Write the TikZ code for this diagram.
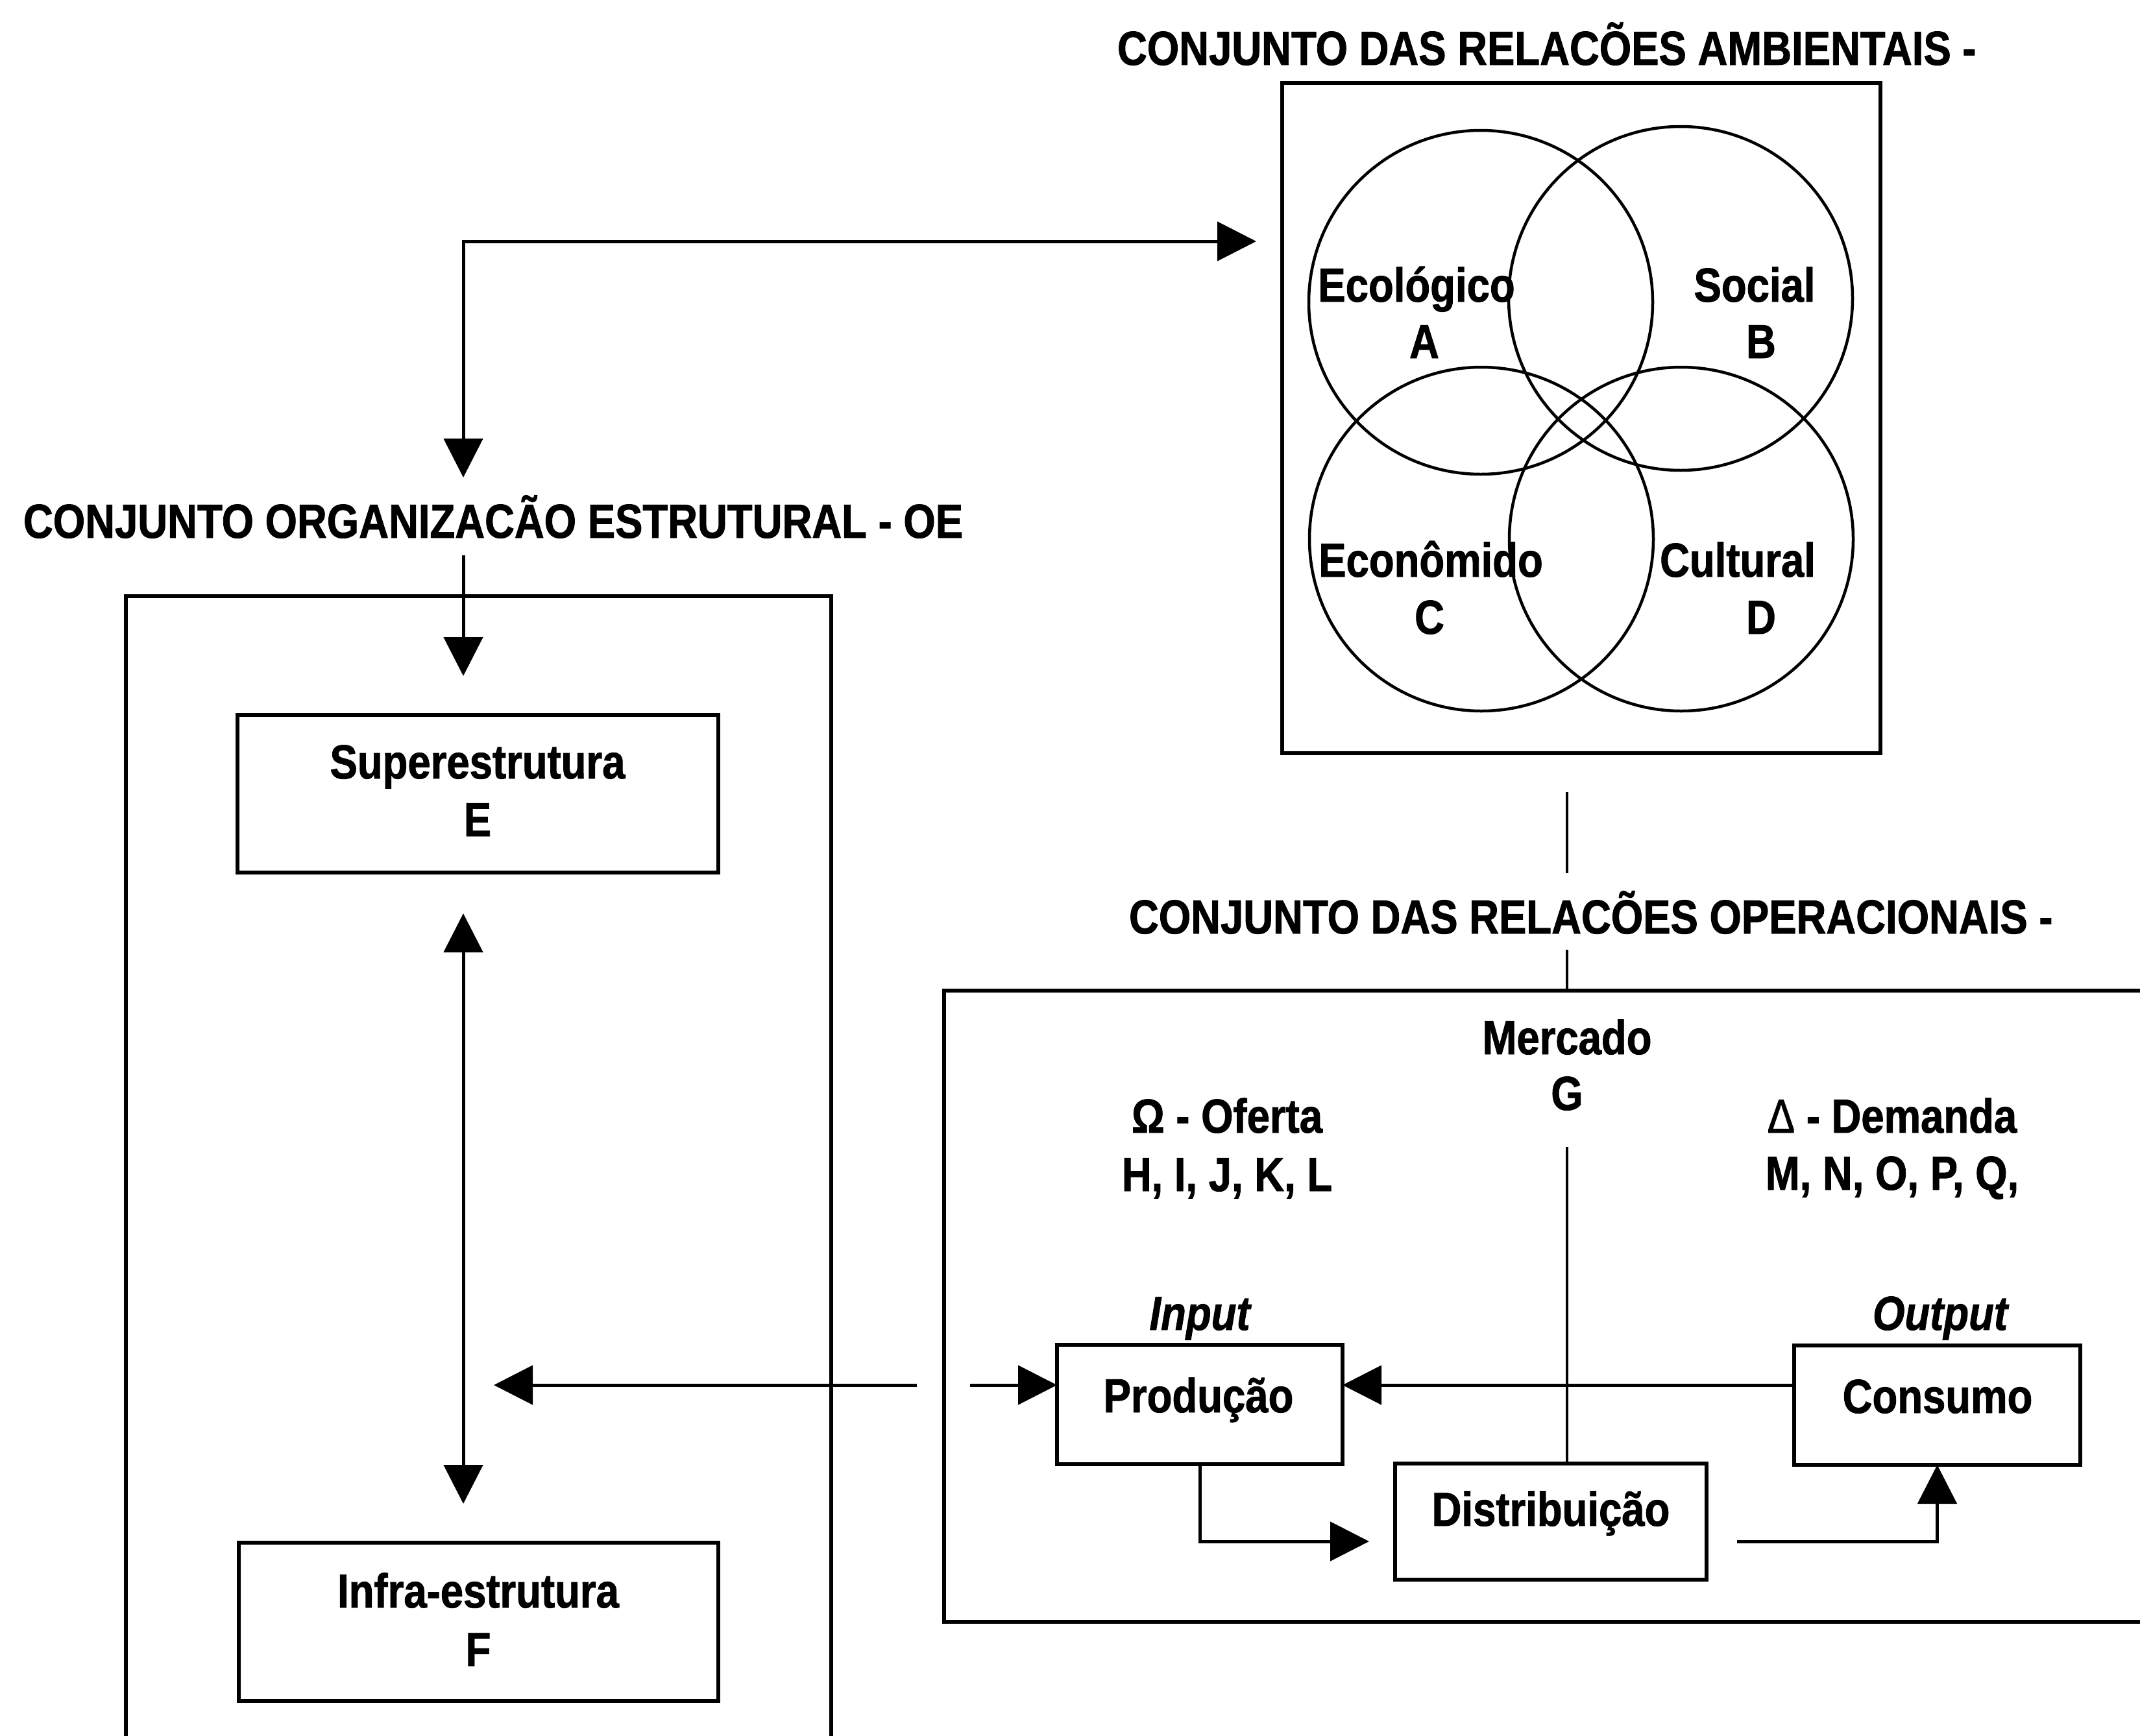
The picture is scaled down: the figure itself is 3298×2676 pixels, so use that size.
\documentclass[tikz,border=0pt]{standalone}
\usepackage{fontspec}
\setmainfont{Liberation Sans}[FakeStretch=0.86,FakeBold=1.2]
\usetikzlibrary{arrows.meta}
\begin{document}
\begin{tikzpicture}[x=0.1mm,y=-0.1mm,
  txt/.style={inner sep=0pt, outer sep=0pt, anchor=base, font=\fontsize{21}{25}\selectfont\bfseries},
  ttl/.style={txt, anchor=base west},
  box/.style={draw, line width=0.6mm, inner sep=0pt, outer sep=0pt},
  ven/.style={draw, circle, line width=0.45mm, minimum size=53mm, inner sep=0pt, outer sep=0pt},
  con/.style={line width=0.5mm},
  thin line/.style={line width=0.35mm},
  arr/.style={con, -{Triangle[length=6mm,width=6mm]}},
  dbl/.style={con, {Triangle[length=6mm,width=6mm]}-{Triangle[length=6mm,width=6mm]}}]
\useasboundingbox (0,0) rectangle (3298,2676);

% ---------- titles
\node[ttl] (ambT) at (1722,100) {CONJUNTO DAS RELACÕES AMBIENTAIS -};
\node[ttl] (oeT) at (36,829) {CONJUNTO ORGANIZACÃO ESTRUTURAL - OE};
\node[ttl] (opT) at (1740,1439) {CONJUNTO DAS RELACÕES OPERACIONAIS -};

% ---------- ambient box and Venn
\node[box, minimum width=92.2mm, minimum height=103.3mm] (amb) at (2437,644.5) {};
\node[ven] (cA) at (2282,466) {};
\node[ven] (cB) at (2590,460) {};
\node[ven] (cC) at (2283,831) {};
\node[ven] (cD) at (2591,831) {};
\node[txt] (tA1) at (2183,465) {Ecológico};
\node[txt] (tA2) at (2195,552) {A};
\node[txt] (tB1) at (2704,465) {Social};
\node[txt] (tB2) at (2714,552) {B};
\node[txt] (tC1) at (2205,889) {Econômido};
\node[txt] (tC2) at (2203,977) {C};
\node[txt] (tD1) at (2678,889) {Cultural};
\node[txt] (tD2) at (2714,977) {D};

% ---------- top connector
\coordinate (corner) at (714,372);
\coordinate (oeIn) at (714,736);
\coordinate (ambIn) at (1936,372);
\draw[dbl] (oeIn) -- (corner) -- (ambIn);

% ---------- organisation box
\draw[box] (194,2700) -- (194,919) -- (1281,919) -- (1281,2700);
\node[box, minimum width=74.1mm, minimum height=24.3mm] (sup) at (736.5,1223.5) {};
\node[txt] (supT1) at (736,1200) {Superestrutura};
\node[txt] (supT2) at (736,1289) {E};
\node[box, minimum width=73.9mm, minimum height=24.4mm] (inf) at (737.5,2500) {};
\node[txt] (infT1) at (737,2478) {Infra-estrutura};
\node[txt] (infT2) at (737,2568) {F};
\coordinate (oeOut) at (714,856);
\draw[arr, shorten >=6mm] (oeOut) -- (oeOut |- sup.north);
\draw[dbl, shorten <=6.3mm, shorten >=6mm] (oeOut |- sup.south) -- (oeOut |- inf.north);

% ---------- operational box
\draw[box] (3320,1527) -- (1455,1527) -- (1455,2500) -- (3320,2500);
\coordinate (v1a) at (2415,1221);
\coordinate (v1b) at (2415,1346);
\coordinate (v2a) at (2415,1464);
\coordinate (v2b) at (2415,1527);
\draw[thin line] (v1a) -- (v1b);
\draw[thin line] (v2a) -- (v2b);

\node[txt] (merc1) at (2415,1625) {Mercado};
\node[txt] (merc2) at (2415,1711) {G};
\node[txt] (of1) at (1891,1746) {Ω - Oferta};
\node[txt] (of2) at (1891,1836) {H, I, J, K, L};
\node[txt] (de1) at (2916,1746) {\textmd{Δ} - Demanda};
\node[txt] (de2) at (2916,1834) {M, N, O, P, Q,};
\node[txt, font=\fontsize{21}{25}\selectfont\bfseries\itshape] (inp) at (1849,2050) {Input};
\node[txt, font=\fontsize{21}{25}\selectfont\bfseries\itshape] (outp) at (2990,2050) {Output};

\node[box, minimum width=44mm, minimum height=18.4mm] (prod) at (1849,2165) {};
\node[txt] (prodT) at (1847,2177) {Produção};
\node[box, minimum width=44.1mm, minimum height=18.4mm] (cons) at (2985.5,2166) {};
\node[txt] (consT) at (2986,2178) {Consumo};
\node[box, minimum width=48mm, minimum height=17.9mm] (dist) at (2390,2345.5) {};
\node[txt] (distT) at (2390,2352) {Distribuição};

\coordinate (hl) at (0,2135);
\coordinate (yl) at (0,2376);
\coordinate (gl) at (2415,1768);
\draw[thin line] (gl) -- (gl |- dist.north);
\draw[arr] (cons.west |- hl) -- (prod.east |- hl);
\draw[arr, shorten >=4mm] (prod.south) |- (dist.west |- yl);
\draw[arr, shorten <=4.7mm] (dist.east |- yl) -| (cons.south);

% ---------- link operational -> organisation
\coordinate (lgA) at (1413,2135);
\coordinate (lgT) at (761,2135);
\coordinate (lgB) at (1495,2135);
\draw[arr] (lgA) -- (lgT);
\draw[arr] (lgB) -- (prod.west |- hl);
\end{tikzpicture}
\end{document}
